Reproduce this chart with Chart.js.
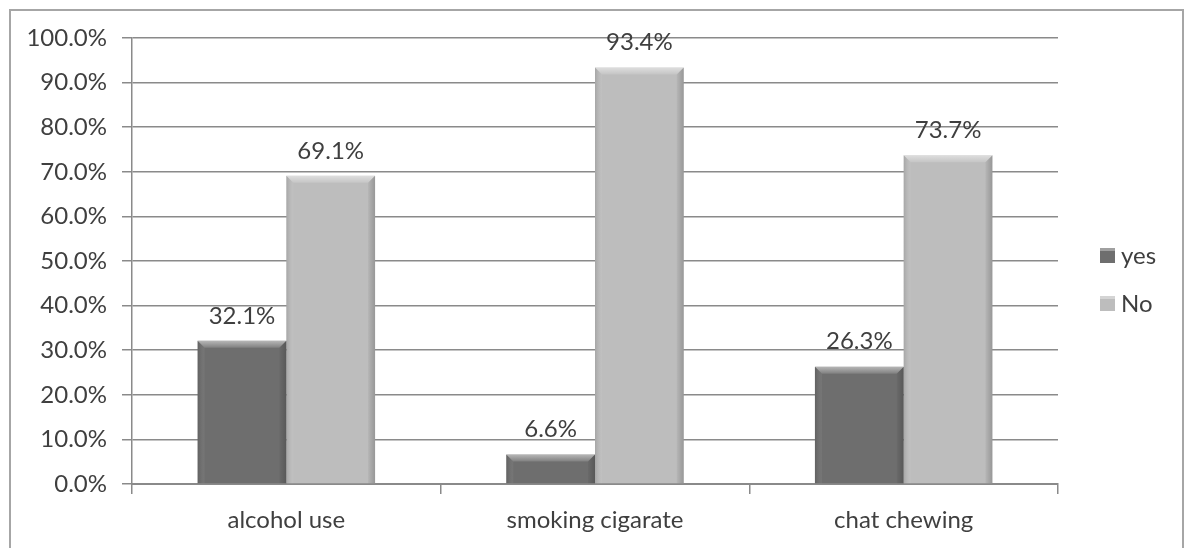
<!DOCTYPE html>
<html>
<head>
<meta charset="utf-8">
<script src="https://cdn.jsdelivr.net/npm/chart.js@4"></script>
<style>
  html, body { margin: 0; padding: 0; background: #fff; overflow: hidden; }
  #wrap { position: relative; width: 1190px; height: 548px; }
  #frame { position: absolute; left: 9px; top: 9px; width: 1175px; height: 560px; border: 2px solid #a6a6a6; box-sizing: border-box; pointer-events: none; }
</style>
</head>
<body>
<div id="wrap">
  <canvas id="chart" width="1190" height="548"></canvas>
  <div id="frame"></div>
</div>
<script>
const categories = ["alcohol use", "smoking cigarate", "chat chewing"]
const yesValues = [32.1, 6.6, 26.3]
const noValues = [69.1, 93.4, 73.7]
const seriesNames = ["yes", "No"]
const yTicks = [0, 10, 20, 30, 40, 50, 60, 70, 80, 90, 100]

const FONT = "Lato, 'Open Sans', sans-serif"
const TEXT = "#3f3f3f"
const SIZE = 24

// bevel shading on top of each bar, read from the bar elements
const bevelPlugin = {
  id: "bevel",
  afterDatasetsDraw(chart) {
    const ctx = chart.ctx
    chart.data.datasets.forEach((ds, di) => {
      chart.getDatasetMeta(di).data.forEach(bar => {
        const l = bar.x - bar.width / 2, r = bar.x + bar.width / 2
        const t = bar.y, b = bar.base, e = 7
        ctx.save()
        let g = ctx.createLinearGradient(0, t, 0, t + e)
        g.addColorStop(0, "rgba(255,255,255,0.5)")
        g.addColorStop(1, "rgba(255,255,255,0.12)")
        ctx.fillStyle = g
        ctx.beginPath()
        ctx.moveTo(l, t); ctx.lineTo(r, t); ctx.lineTo(r - e, t + e); ctx.lineTo(l + e, t + e); ctx.closePath()
        ctx.fill()
        g = ctx.createLinearGradient(l, 0, l + e, 0)
        g.addColorStop(0, "rgba(0,0,0,0.12)")
        g.addColorStop(1, "rgba(255,255,255,0.05)")
        ctx.fillStyle = g
        ctx.beginPath()
        ctx.moveTo(l, t); ctx.lineTo(l + e, t + e); ctx.lineTo(l + e, b); ctx.lineTo(l, b); ctx.closePath()
        ctx.fill()
        g = ctx.createLinearGradient(r - e, 0, r, 0)
        g.addColorStop(0, "rgba(0,0,0,0.04)")
        g.addColorStop(1, "rgba(0,0,0,0.2)")
        ctx.fillStyle = g
        ctx.beginPath()
        ctx.moveTo(r, t); ctx.lineTo(r - e, t + e); ctx.lineTo(r - e, b); ctx.lineTo(r, b); ctx.closePath()
        ctx.fill()
        ctx.restore()
      })
    })
  }
}

// value labels above bars
const valueLabels = {
  id: "valueLabels",
  afterDatasetsDraw(chart) {
    const ctx = chart.ctx
    ctx.save()
    ctx.font = SIZE + "px " + FONT
    ctx.fillStyle = TEXT
    ctx.textAlign = "center"
    ctx.textBaseline = "middle"
    chart.data.datasets.forEach((ds, di) => {
      chart.getDatasetMeta(di).data.forEach((bar, i) => {
        ctx.fillText(ds.data[i].toFixed(1) + "%", bar.x, bar.y - 25)
      })
    })
    ctx.restore()
  }
}

// legend on the right
const sideLegend = {
  id: "sideLegend",
  afterDraw(chart) {
    const ctx = chart.ctx
    const area = chart.chartArea
    const x = area.right + 42
    const yMid = 280
    const rows = chart.data.datasets.length
    ctx.save()
    ctx.font = SIZE + "px " + FONT
    ctx.textBaseline = "middle"
    chart.data.datasets.forEach((ds, i) => {
      const cy = yMid + (i - (rows - 1) / 2) * 48
      ctx.fillStyle = ds.backgroundColor
      ctx.fillRect(x, cy - 8, 15, 15)
      ctx.fillStyle = "rgba(255,255,255,0.35)"
      ctx.fillRect(x, cy - 8, 15, 3)
      ctx.fillStyle = TEXT
      ctx.fillText(ds.label, x + 21, cy)
    })
    ctx.restore()
  }
}

new Chart(document.getElementById("chart").getContext("2d"), {
  type: "bar",
  data: {
    labels: categories,
    datasets: [
      {label: seriesNames[0], data: yesValues, backgroundColor: "#6e6e6e"},
      {label: seriesNames[1], data: noValues, backgroundColor: "#bdbdbd"}
    ]
  },
  options: {
    responsive: false,
    animation: false,
    layout: {padding: {top: 38, right: 132, bottom: 0, left: 0}},
    datasets: {bar: {barPercentage: 1, categoryPercentage: 0.575}},
    scales: {
      x: {
        grid: {drawOnChartArea: false, drawTicks: true, tickLength: 10, color: "#8a8a8a", lineWidth: 1.5},
        border: {color: "#8a8a8a", width: 2},
        ticks: {color: TEXT, font: {family: FONT, size: SIZE}, padding: 12},
        afterFit: s => { s.height = 64 }
      },
      y: {
        min: 0,
        max: 100,
        afterBuildTicks: s => { s.ticks = yTicks.map(v => ({value: v})) },
        grid: {color: "#8a8a8a", lineWidth: 1.5, tickLength: 10},
        border: {color: "#8a8a8a", width: 1.5},
        ticks: {color: TEXT, font: {family: FONT, size: SIZE}, padding: 15,
          callback: v => v.toFixed(1) + "%"},
        afterFit: s => { s.width = 132 }
      }
    },
    plugins: {legend: {display: false}, tooltip: {enabled: false}}
  },
  plugins: [bevelPlugin, valueLabels, sideLegend]
})
</script>
</body>
</html>
